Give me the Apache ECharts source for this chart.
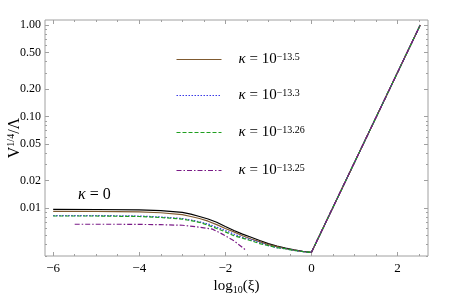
<!DOCTYPE html>
<html><head><meta charset="utf-8">
<script src="https://cdn.jsdelivr.net/npm/echarts@6/dist/echarts.min.js"></script>
<style>html,body{margin:0;padding:0;background:#fff}#c{width:450px;height:296px}</style>
</head><body><div id="c"></div>
<script>
// ---- data ----
const xs = [-6, -5, -4, -3.5, -3, -2.8, -2.6, -2.4, -2.2, -2, -1.8, -1.6, -1.4, -1.2, -1, -0.8, -0.6, -0.4, -0.2, 0, 2.53];
const kappa0 = [0.00968, 0.00966, 0.00958, 0.0094, 0.0090, 0.0086, 0.0081, 0.0076, 0.0070, 0.0063, 0.0057, 0.0052, 0.0048, 0.00443, 0.0041, 0.00385, 0.00365, 0.0035, 0.00337, 0.00328, 1.0];
const k135 = [0.0092, 0.0092, 0.0091, 0.0089, 0.0085, 0.0081, 0.0077, 0.0072, 0.0066, 0.0060, 0.0055, 0.0050, 0.0046, 0.0043, 0.0040, 0.0038, 0.0036, 0.00348, 0.00336, 0.00328, 1.0];
const k133 = [0.0083, 0.0083, 0.0082, 0.0080, 0.0077, 0.0074, 0.0071, 0.0067, 0.0062, 0.0057, 0.0052, 0.0048, 0.0045, 0.0042, 0.0039, 0.0037, 0.0036, 0.00345, 0.00335, 0.00328, 1.0];
const k1326 = [0.0082, 0.0082, 0.0081, 0.0079, 0.0076, 0.0073, 0.0070, 0.0065, 0.0060, 0.0055, 0.0050, 0.0047, 0.0044, 0.0041, 0.0039, 0.0037, 0.0036, 0.00345, 0.00335, 0.00328, 1.0];
const xsP = [-5.5, -4.5, -3.5, -3, -2.6, -2.3, -2.1, -1.8, -1.53, null, 0, 2.53];
const k1325 = [0.00667, 0.00667, 0.0066, 0.0065, 0.0062, 0.0059, 0.0053, 0.0044, 0.0035, null, 0.00328, 1.0];
const names = ['k135', 'k133', 'k1326', 'k1325'];
const exps = ['−13.5', '−13.3', '−13.26', '−13.25'];
const xMajor = [-6, -4, -2, 0, 2];
const xMinor = [-5.5, -5, -4.5, -3.5, -3, -2.5, -1.5, -1, -0.5, 0.5, 1, 1.5, 2.5];
const yMajor = [0.01, 0.02, 0.05, 0.1, 0.2, 0.5, 1];
const yMinor = [0.003, 0.004, 0.005, 0.006, 0.007, 0.008, 0.009, 0.03, 0.04, 0.06, 0.07, 0.08, 0.09, 0.3, 0.4, 0.6, 0.7, 0.8, 0.9];

const pair = (x, y) => x.map((v, i) => v === null ? [null, null] : [v, y[i]]);
const FONT = 'Liberation Serif';
const GRAY = '#a0a0a0';

const xAx = (pos, vals, len, labels) => ({
  type: 'value', min: -6.19, max: 2.71, position: pos,
  splitLine: { show: false },
  axisLine: { show: false, onZero: false },
  axisTick: { show: true, inside: true, length: len, customValues: vals, lineStyle: { color: GRAY } },
  axisLabel: labels ? { show: true, customValues: xMajor, color: '#000', fontFamily: FONT, fontSize: 13, margin: 6,
    formatter: v => (v < 0 ? '−' + Math.abs(v) : String(v)) } : { show: false }
});
const yAx = (pos, vals, len, labels) => ({
  type: 'log', min: 0.003, max: 1.134, position: pos, logBase: 10,
  splitLine: { show: false },
  axisLine: { show: false, onZero: false },
  minorTick: { show: false },
  axisTick: { show: true, inside: true, length: len, customValues: vals, lineStyle: { color: GRAY } },
  axisLabel: labels ? { show: true, customValues: yMajor, color: '#000', fontFamily: FONT, fontSize: 12, margin: 4,
    formatter: v => Number(v).toFixed(2) } : { show: false }
});

const xAxes = [xAx('bottom', xMajor, 4, true), xAx('bottom', xMinor, 2, false), xAx('top', xMajor, 4, false), xAx('top', xMinor, 2, false)];
xAxes[0].name = 'log{s|10}(ξ)';
xAxes[0].nameLocation = 'middle';
xAxes[0].nameGap = 21;
xAxes[0].nameMoveOverlap = false;
xAxes[0].nameTextStyle = { fontFamily: FONT, fontSize: 15, color: '#000', lineHeight: 18,
  rich: { s: { fontFamily: FONT, fontSize: 10, verticalAlign: 'bottom', lineHeight: 12 } } };
const yAxes = [yAx('left', yMajor, 4, true), yAx('left', yMinor, 2, false), yAx('right', yMajor, 4, false), yAx('right', yMinor, 2, false)];
yAxes[0].name = 'V{s|1/4}/Λ';
yAxes[0].nameLocation = 'middle';
yAxes[0].nameRotate = 90;
yAxes[0].nameGap = 21;
yAxes[0].nameMoveOverlap = false;
yAxes[0].nameTextStyle = { fontFamily: FONT, fontSize: 16, color: '#000', lineHeight: 18,
  rich: { s: { fontFamily: FONT, fontSize: 10, verticalAlign: 'top', lineHeight: 10 } } };

const styles = [
  { color: '#7f5a30', type: 'solid' },
  { color: '#3a3ae6', type: [1.5, 1.5] },
  { color: '#1f9f1f', type: [4, 2] },
  { color: '#7a1a86', type: [5, 2, 1.5, 2] }
];
const datas = [pair(xs, k135), pair(xs, k133), pair(xs, k1326), pair(xsP, k1325)];

const series = [{
  name: 'k0', type: 'line', data: pair(xs, kappa0), symbol: 'none', smooth: false,
  lineStyle: { color: '#000', width: 1.2 }, silent: true, animation: false
}];
names.forEach((n, i) => series.push({
  name: n, type: 'line', data: datas[i], symbol: 'none', smooth: false, connectNulls: false,
  lineStyle: { color: styles[i].color, type: styles[i].type, width: 1.2 }, itemStyle: { color: styles[i].color },
  animation: false
}));

const legendTops = [47, 83, 120, 158];
const legends = names.map((n, i) => ({
  data: [{ name: n, lineStyle: { color: styles[i].color, type: styles[i].type, width: 1, opacity: 1 },
    itemStyle: { opacity: 0 } }],
  left: 171, top: legendTops[i], orient: 'vertical',
  itemWidth: 45, itemHeight: 13, selectedMode: false,
  itemStyle: { opacity: 0 },
  formatter: () => '{k|κ} = 10{s|' + exps[i] + '}',
  textStyle: {
    fontFamily: FONT, fontSize: 15, color: '#000', padding: [0, 0, 0, 12],
    rich: {
      k: { fontFamily: FONT, fontSize: 15, fontStyle: 'italic', color: '#000' },
      s: { fontFamily: FONT, fontSize: 10, color: '#000', verticalAlign: 'top', lineHeight: 10 }
    }
  }
}));

const chart = echarts.init(document.getElementById('c'), null, { renderer: 'canvas' });
chart.setOption({
  animation: false,
  grid: { left: 45, right: 22, top: 20, bottom: 40, show: true, borderColor: GRAY, borderWidth: 1,
    backgroundColor: 'transparent', containLabel: false, outerBoundsMode: 'none' },
  xAxis: xAxes,
  yAxis: yAxes,
  legend: legends,
  series: series,
  graphic: [{
    type: 'text', left: 78, top: 187,
    style: { text: '{k|κ} = 0', fontFamily: FONT, fontSize: 16, fill: '#000',
      rich: { k: { fontFamily: FONT, fontSize: 16, fontStyle: 'italic' } } }
  }]
});
</script></body></html>
